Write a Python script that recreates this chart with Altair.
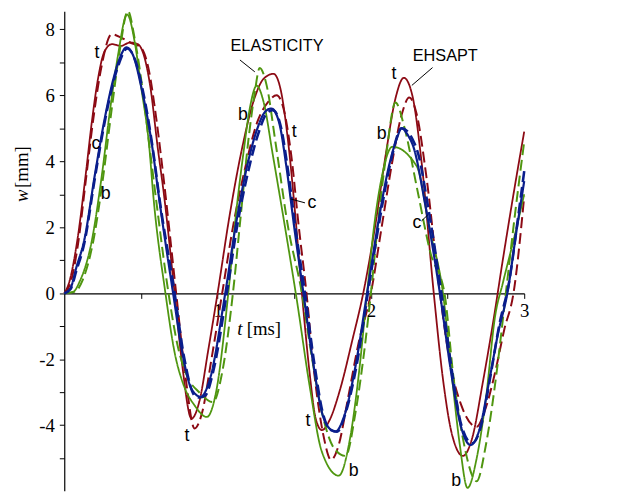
import altair as alt
import pandas as pd

# ---------------- data ----------------
# t: top (dark red), c: centre (blue), b: bottom (green); solid / dashed
t_solid_x = [0, 0.03, 0.085, 0.14, 0.18, 0.22, 0.26, 0.31, 0.37, 0.43, 0.48, 0.52, 0.56, 0.61, 0.65, 0.72, 0.77, 0.83, 0.88, 0.94, 1.0,
             1.08, 1.16, 1.24, 1.3, 1.365, 1.41, 1.46, 1.51, 1.55, 1.6, 1.64, 1.68, 1.73, 1.8, 1.88, 1.95, 2.03, 2.1, 2.16, 2.215,
             2.27, 2.33, 2.41, 2.47, 2.53, 2.6, 2.66, 2.73, 2.8, 2.86, 2.93, 3.0]
t_solid_y = [0, 0.3, 1.6, 3.6, 5.2, 6.5, 7.3, 7.55, 7.5, 7.6, 7.55, 7.2, 6.3, 4.4, 3.0, 0, -2.2, -3.8, -3.3, -1.7, 0,
             2.4, 4.4, 5.9, 6.5, 6.65, 6.2, 4.6, 2.2, 0, -2.4, -3.8, -4.15, -3.85, -2.9, -1.4, 0, 2.1, 4.3, 5.9, 6.53,
             6.0, 4.0, 0, -2.6, -4.3, -4.93, -4.4, -2.7, -0.8, 1.0, 3.0, 4.9]

t_dash_x = [0, 0.04, 0.09, 0.14, 0.19, 0.24, 0.31, 0.37, 0.43, 0.5, 0.55, 0.6, 0.65, 0.73, 0.79, 0.85, 0.9, 0.96, 1.03,
            1.1, 1.18, 1.26, 1.33, 1.385, 1.43, 1.48, 1.53, 1.58, 1.63, 1.69, 1.74, 1.79, 1.85, 1.92, 2.0, 2.07, 2.14, 2.2,
            2.25, 2.3, 2.36, 2.45, 2.52, 2.59, 2.69, 2.74, 2.81, 2.87, 2.93, 3.0]
t_dash_y = [0, 0.3, 1.5, 3.4, 5.3, 6.8, 7.85, 7.75, 7.6, 7.45, 6.8, 5.3, 3.4, 0, -2.5, -4.1, -3.6, -2.0, 0,
            2.0, 3.8, 5.2, 5.8, 6.0, 5.6, 4.2, 2.0, 0, -2.4, -4.3, -5.05, -4.6, -3.2, -1.5, 0, 2.0, 4.0, 5.4,
            5.93, 5.4, 3.6, 0, -2.2, -3.4, -4.05, -3.6, -2.4, -1.1, 0, 2.94]

c_solid_x = [0, 0.04, 0.08, 0.13, 0.2, 0.26, 0.31, 0.36, 0.405, 0.45, 0.5, 0.575, 0.615, 0.71, 0.77, 0.83, 0.89, 0.95, 1.05,
             1.12, 1.19, 1.26, 1.31, 1.35, 1.4, 1.45, 1.5, 1.56, 1.62, 1.68, 1.73, 1.77, 1.82, 1.9, 1.975, 2.05, 2.12, 2.17,
             2.2, 2.24, 2.28, 2.35, 2.45, 2.52, 2.58, 2.65, 2.71, 2.77, 2.83, 2.89, 2.95, 3.0]
c_solid_y = [0, 0.15, 0.8, 1.6, 3.6, 5.2, 6.3, 7.1, 7.45, 7.2, 6.3, 4.4, 3.0, 0, -1.8, -2.9, -3.14, -2.6, 0,
             2.1, 3.8, 5.0, 5.5, 5.6, 5.2, 3.8, 2.0, 0, -2.0, -3.6, -4.1, -4.19, -3.8, -2.2, 0, 2.2, 3.9, 4.7,
             5.0, 4.8, 4.4, 2.8, 0, -2.3, -3.9, -4.6, -4.1, -2.7, -1.2, 0, 1.9, 3.4]

c_dash_x = [0, 0.04, 0.08, 0.13, 0.2, 0.26, 0.31, 0.36, 0.41, 0.46, 0.51, 0.58, 0.62, 0.72, 0.78, 0.85, 0.88, 0.92, 0.97, 1.06,
            1.13, 1.2, 1.27, 1.32, 1.36, 1.41, 1.46, 1.51, 1.57, 1.63, 1.69, 1.74, 1.78, 1.83, 1.91, 1.98, 2.06, 2.13, 2.2,
            2.27, 2.31, 2.37, 2.46, 2.53, 2.59, 2.66, 2.72, 2.78, 2.84, 2.9, 2.96, 3.0]
c_dash_y = [0, 0.12, 0.7, 1.5, 3.5, 5.1, 6.2, 7.0, 7.42, 7.1, 6.2, 4.3, 2.9, 0, -1.9, -3.1, -3.16, -3.1, -2.4, 0,
            2.1, 3.7, 4.9, 5.45, 5.55, 5.1, 3.7, 1.9, 0, -2.1, -3.7, -4.15, -4.2, -3.7, -2.1, 0, 2.3, 4.0, 5.0,
            4.68, 4.2, 2.7, 0, -2.4, -4.0, -4.55, -4.0, -2.5, -0.9, 0.3, 2.3, 3.7]

b_solid_x = [0, 0.06, 0.1, 0.18, 0.24, 0.3, 0.35, 0.41, 0.46, 0.5, 0.555, 0.58, 0.66, 0.72, 0.78, 0.85, 0.93, 0.99, 1.07,
             1.12, 1.17, 1.21, 1.255, 1.3, 1.36, 1.44, 1.52, 1.6, 1.68, 1.79, 1.86, 1.92, 1.975, 2.02, 2.07, 2.14, 2.3,
             2.38, 2.47, 2.53, 2.58, 2.63, 2.69, 2.75, 2.81, 2.86, 2.93, 3.0]
b_solid_y = [0, 0.05, 0.35, 1.6, 3.4, 5.6, 7.2, 8.45, 7.6, 6.3, 4.4, 3.0, 0, -1.8, -2.8, -3.4, -3.75, -3.0, 0,
             2.4, 4.3, 5.6, 6.29, 5.8, 4.2, 2.0, -0.3, -2.8, -4.8, -5.53, -4.5, -2.5, 0, 2.0, 3.5, 4.44, 3.84,
             2.0, 0, -2.6, -4.6, -5.9, -5.0, -3.2, -0.7, 0.3, 1.6, 3.0]

b_dash_x = [0, 0.07, 0.12, 0.19, 0.25, 0.31, 0.36, 0.415, 0.46, 0.51, 0.56, 0.6, 0.68, 0.74, 0.8, 0.88, 0.97, 1.03, 1.1,
            1.15, 1.2, 1.24, 1.275, 1.32, 1.38, 1.46, 1.55, 1.61, 1.68, 1.76, 1.835, 1.9, 1.95, 2.0, 2.05, 2.1, 2.16,
            2.22, 2.3, 2.39, 2.48, 2.54, 2.6, 2.69, 2.75, 2.82, 2.88, 2.94, 3.0]
b_dash_y = [0, 0.05, 0.4, 1.6, 3.4, 5.6, 7.3, 8.55, 7.7, 6.2, 4.3, 2.8, 0, -1.6, -2.5, -3.0, -3.3, -2.4, 0,
            2.3, 4.6, 6.0, 6.83, 6.3, 4.5, 2.0, 0, -1.8, -3.6, -4.7, -4.93, -3.6, -2.0, 0, 2.3, 4.2, 5.78,
            5.0, 3.2, 1.2, 0, -2.6, -4.4, -5.7, -4.6, -2.4, 0, 2.4, 4.6]

# annotation texts
lab_text = ["t", "c", "b", "b", "t", "c", "t", "b", "c", "t", "t", "b", "b"]
lab_x = [0.213, 0.206, 0.27, 1.166, 1.5, 1.615, 2.15, 2.07, 2.3, 0.8, 1.59, 1.887, 2.556]
lab_y = [7.28, 4.53, 3.0, 5.39, 4.89, 2.74, 6.63, 4.83, 2.14, -4.33, -3.88, -5.38, -5.68]

model_text = ["ELASTICITY", "EHSAPT"]
model_x = [1.388, 2.485]
model_y = [7.49, 7.19]

ptr_x = [1.146, 2.402, 1.57, 2.33]
ptr_y = [7.07, 6.84, 2.74, 2.19]
ptr_x2 = [1.243, 2.267, 1.475, 2.37]
ptr_y2 = [6.71, 6.3, 2.86, 2.37]

# ---------------- build tables ----------------
series = [
    ("t dashed", t_dash_x, t_dash_y),
    ("t solid", t_solid_x, t_solid_y),
    ("b dashed", b_dash_x, b_dash_y),
    ("b solid", b_solid_x, b_solid_y),
    ("c dashed", c_dash_x, c_dash_y),
    ("c solid", c_solid_x, c_solid_y),
]
rows = []
for name, xs_, ys_ in series:
    for x, y in zip(xs_, ys_):
        rows.append({"s": name, "t": x, "w": y})
df = pd.DataFrame(rows)

RED = "#8c0a14"
BLUE = "#0a1e8c"
GREEN = "#4f9610"
color_map = {"t dashed": RED, "t solid": RED, "b dashed": GREEN, "b solid": GREEN,
             "c dashed": BLUE, "c solid": BLUE}
width_map = {"t dashed": 2.0, "t solid": 1.8, "b dashed": 2.0, "b solid": 1.8,
             "c dashed": 2.6, "c solid": 2.2}

SERIF = "Times New Roman, Liberation Serif, serif"
SANS = "Arial, Liberation Sans, sans-serif"

W, H = 466, 486
YMIN, YMAX = -5.99, 8.55
ppu = H / (YMAX - YMIN)
y0 = YMAX * ppu

xs = alt.Scale(domain=[0, 3], nice=False, zero=False)
ys = alt.Scale(domain=[YMIN, YMAX], nice=False, zero=False)

xaxis = alt.Axis(orient="bottom", offset=-round(H - y0), values=[0.5, 1, 1.5, 2, 2.5, 3],
                 labelExpr="datum.value % 1 == 0 ? datum.value : ''",
                 title=None, grid=False, domainColor="black", domainWidth=1.2,
                 tickColor="black", tickSize=5, labelFont=SERIF,
                 labelFontSize=19, labelColor="black", labelPadding=3, labelFlush=False,
                 labelOverlap=False)
yaxis = alt.Axis(orient="left", values=list(range(-5, 9)),
                 labelExpr="datum.value % 2 == 0 ? datum.value : ''",
                 title=None, grid=False, domainColor="black", domainWidth=1.2,
                 tickColor="black", tickSize=5, labelFont=SERIF,
                 labelFontSize=19, labelColor="black", labelPadding=5, labelFlush=False,
                 labelOverlap=False)

X = lambda f: alt.X(f, scale=xs, axis=xaxis)
Y = lambda f: alt.Y(f, scale=ys, axis=yaxis)

layers = []
for name, _, _ in series:
    d = df[df.s == name]
    dash = [11, 5] if "dashed" in name else [1, 0]
    layers.append(
        alt.Chart(d).mark_line(interpolate="monotone", color=color_map[name],
                               strokeWidth=width_map[name], strokeDash=dash, clip=False)
        .encode(x=X("t:Q"), y=Y("w:Q"), order="t:Q")
    )

lab_df = pd.DataFrame({"x": lab_x, "y": lab_y, "txt": lab_text})
labels = alt.Chart(lab_df).mark_text(font=SANS, fontSize=18, color="black",
                                     baseline="middle", align="center").encode(
    x=X("x:Q"), y=Y("y:Q"), text="txt:N")

mod_df = pd.DataFrame({"x": model_x, "y": model_y, "txt": model_text})
models = alt.Chart(mod_df).mark_text(font=SANS, fontSize=16.5, color="black",
                                     baseline="middle", align="center").encode(
    x=X("x:Q"), y=Y("y:Q"), text="txt:N")

ptr_df = pd.DataFrame({"x": ptr_x, "y": ptr_y, "x2": ptr_x2, "y2": ptr_y2})
ptrs = alt.Chart(ptr_df).mark_rule(color="black", strokeWidth=1).encode(
    x=X("x:Q"), y=Y("y:Q"), x2="x2:Q", y2="y2:Q")

# axis titles (w italic, t italic)
t_title = alt.Chart(pd.DataFrame({"x": [1.146], "y": [-1.1], "txt": ["t"]})).mark_text(
    font=SERIF, fontSize=19, fontStyle="italic", color="black", baseline="middle",
    align="center").encode(x=X("x:Q"), y=Y("y:Q"), text="txt:N")
ms_title = alt.Chart(pd.DataFrame({"x": [1.19], "y": [-1.1], "txt": ["[ms]"]})).mark_text(
    font=SERIF, fontSize=19, color="black", baseline="middle",
    align="left").encode(x=X("x:Q"), y=Y("y:Q"), text="txt:N")

w_title = alt.Chart(pd.DataFrame({"txt": ["w"]})).mark_text(
    font=SERIF, fontSize=19, fontStyle="italic", color="black", angle=270,
    baseline="middle", align="center").encode(x=alt.value(22 - 65), y=alt.value(195 - 8), text="txt:N")
mm_title = alt.Chart(pd.DataFrame({"txt": ["[mm]"]})).mark_text(
    font=SERIF, fontSize=19, color="black", angle=270,
    baseline="middle", align="center").encode(x=alt.value(22 - 65), y=alt.value(166 - 8), text="txt:N")

chart = alt.layer(*layers, ptrs, labels, models, t_title, ms_title, w_title, mm_title).properties(
    width=W, height=H, autosize="none", background="white",
    padding={"left": 57, "top": 0, "right": 94, "bottom": 2},
).configure_view(stroke=None)

chart.save("out.html", embed_options={"renderer": "svg", "actions": False})
